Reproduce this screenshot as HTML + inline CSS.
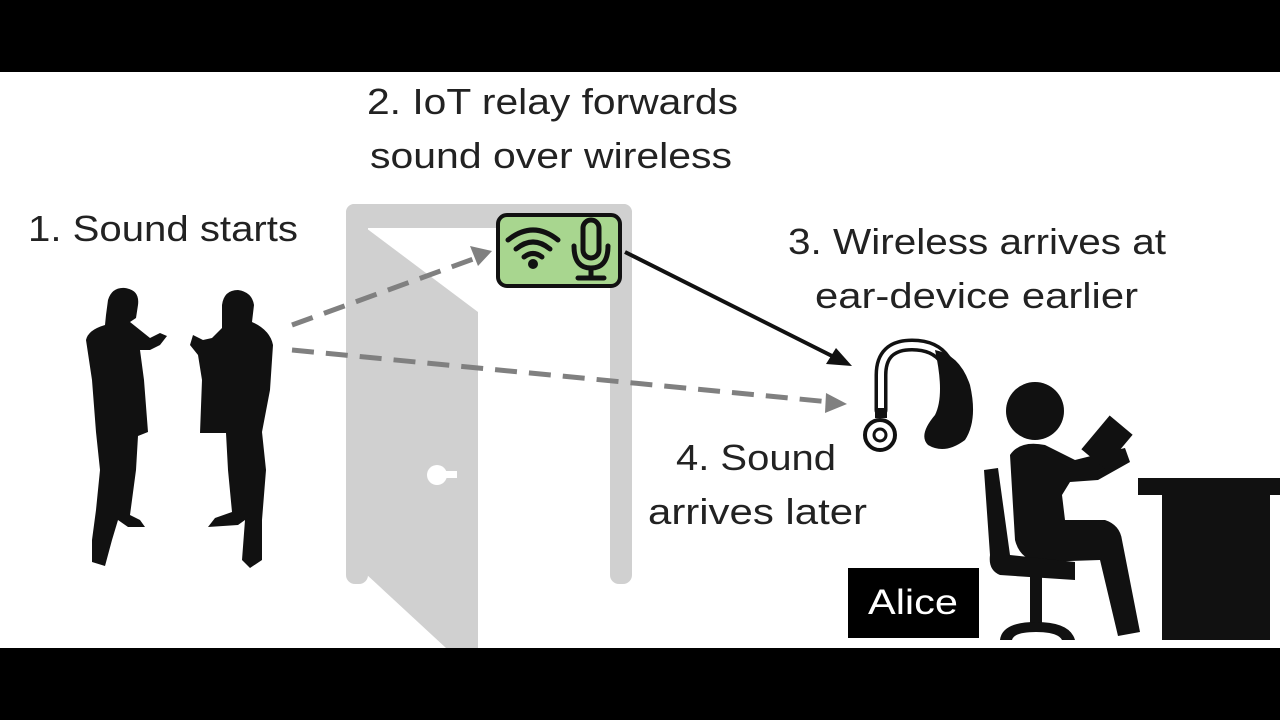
<!DOCTYPE html>
<html><head><meta charset="utf-8"><style>
html,body{margin:0;padding:0;background:#000}
svg{display:block}
text{font-family:"Liberation Sans","DejaVu Sans",sans-serif;fill:#222}
</style></head><body>
<svg width="1280" height="720" viewBox="0 0 1280 720" xmlns="http://www.w3.org/2000/svg">
<rect x="0" y="0" width="1280" height="720" fill="#000"/>
<rect x="0" y="72" width="1280" height="576" fill="#fff"/>

<!-- door -->
<rect x="346" y="204" width="286" height="24" rx="8" fill="#d0d0d0"/>
<rect x="346" y="204" width="22" height="380" rx="9" fill="#d0d0d0"/>
<rect x="610" y="204" width="22" height="380" rx="9" fill="#d0d0d0"/>
<polygon points="366,228 478,312 478,648 446,648 366,574" fill="#d0d0d0"/>
<circle cx="437" cy="475" r="10" fill="#fff"/>
<rect x="437" y="471" width="20" height="7" fill="#fff"/>

<!-- people -->
<g fill="#111">
<path d="M108 300 Q112 287 125 288 Q140 290 138 305 L136 318 L130 322 L140 330 L150 338 L160 333 L167 336 L160 345 L150 350 L140 350 L144 380 L148 432 L138 436 L136 470 L130 515 L140 520 L145 527 L128 527 L118 520 L112 540 L105 566 L92 562 L92 540 L96 510 L100 470 L96 432 L92 380 L86 340 Q88 330 105 325 L106 315 Z"/>
<path d="M222 305 Q224 290 238 290 Q252 292 254 305 L252 322 Q270 330 273 345 L270 390 L262 432 L266 470 L262 520 L262 560 L250 568 L242 560 L245 520 L238 525 L208 527 L215 518 L232 512 L228 470 L226 433 L200 433 L202 380 L198 355 L190 345 L193 335 L203 340 L212 338 L222 328 L222 318 Z"/>
</g>

<!-- green relay -->
<rect x="498" y="215" width="122" height="71" rx="9" fill="#a8d68f" stroke="#111" stroke-width="4"/>
<g fill="none" stroke="#111" stroke-width="5" stroke-linecap="round">
<path d="M508 240 Q533 220 558 240"/>
<path d="M516 249 Q533 235 550 249"/>
<path d="M524 257 Q533 250 542 257"/>
<rect x="583" y="220" width="16" height="38" rx="8"/>
<path d="M574 246 Q574 268 591 268 Q608 268 608 246"/>
<path d="M591 268 L591 278 M578 278 L604 278"/>
</g>
<circle cx="533" cy="264" r="5" fill="#111"/>

<!-- arrows -->
<g stroke="#808080" stroke-width="5" fill="none" stroke-dasharray="22 12">
<line x1="292" y1="325" x2="476" y2="258"/>
<line x1="292" y1="350" x2="830" y2="402"/>
</g>
<polygon points="492,251 470,246 478,266" fill="#808080"/>
<polygon points="847,404 826,393 825,413" fill="#808080"/>
<line x1="625" y1="252" x2="840" y2="360" stroke="#111" stroke-width="4"/>
<polygon points="852,366 826,364 836,348" fill="#111"/>

<!-- hearing aid -->
<path d="M881 410 L881 375 Q881 345 912 345 Q935 345 945 360" fill="none" stroke="#111" stroke-width="13" stroke-linecap="round"/>
<path d="M881 410 L881 375 Q881 345 912 345 Q935 345 945 360" fill="none" stroke="#fff" stroke-width="6" stroke-linecap="round"/>
<path d="M935 350 Q960 355 970 385 Q978 420 965 440 Q945 455 928 445 Q918 435 935 415 Q945 395 935 350 Z" fill="#111"/>
<rect x="875" y="408" width="12" height="10" fill="#111"/>
<circle cx="880" cy="435" r="15" fill="#fff" stroke="#111" stroke-width="4"/>
<circle cx="880" cy="435" r="6" fill="#fff" stroke="#111" stroke-width="3"/>

<!-- person at desk -->
<g fill="#111">
<circle cx="1035" cy="411" r="29"/>
<path d="M1010 455 Q1020 440 1045 445 L1075 460 L1095 455 L1125 448 L1130 462 L1098 480 L1070 482 L1062 495 L1065 520 L1105 520 Q1120 525 1122 540 L1140 632 L1118 636 L1100 560 L1040 562 Q1020 560 1015 540 Z"/>
<rect x="1092" y="420" width="30" height="44" transform="rotate(40 1107 442)"/>
<path d="M984 470 L998 468 L1010 555 L1075 562 L1075 580 L1000 575 Q988 570 990 555 Z"/>
<rect x="1030" y="575" width="12" height="48"/>
<path d="M1000 640 Q1002 622 1036 622 Q1070 622 1075 640 L1062 640 Q1058 632 1036 632 Q1014 632 1012 640 Z"/>
<rect x="1138" y="478" width="142" height="17"/>
<rect x="1162" y="494" width="108" height="146"/>
</g>

<!-- Alice -->
<rect x="848" y="568" width="131" height="70" fill="#000"/>
<text x="868" y="614" font-size="35" textLength="90" lengthAdjust="spacingAndGlyphs" style="fill:#fff">Alice</text>

<!-- labels -->
<text x="28" y="241" font-size="36" textLength="270" lengthAdjust="spacingAndGlyphs">1. Sound starts</text>
<text x="367" y="114" font-size="36" textLength="371" lengthAdjust="spacingAndGlyphs">2. IoT relay forwards</text>
<text x="370" y="168" font-size="36" textLength="362" lengthAdjust="spacingAndGlyphs">sound over wireless</text>
<text x="788" y="254" font-size="36" textLength="378" lengthAdjust="spacingAndGlyphs">3. Wireless arrives at</text>
<text x="815" y="308" font-size="36" textLength="323" lengthAdjust="spacingAndGlyphs">ear-device earlier</text>
<text x="676" y="470" font-size="36" textLength="160" lengthAdjust="spacingAndGlyphs">4. Sound</text>
<text x="648" y="524" font-size="36" textLength="219" lengthAdjust="spacingAndGlyphs">arrives later</text>
</svg>
</body></html>
